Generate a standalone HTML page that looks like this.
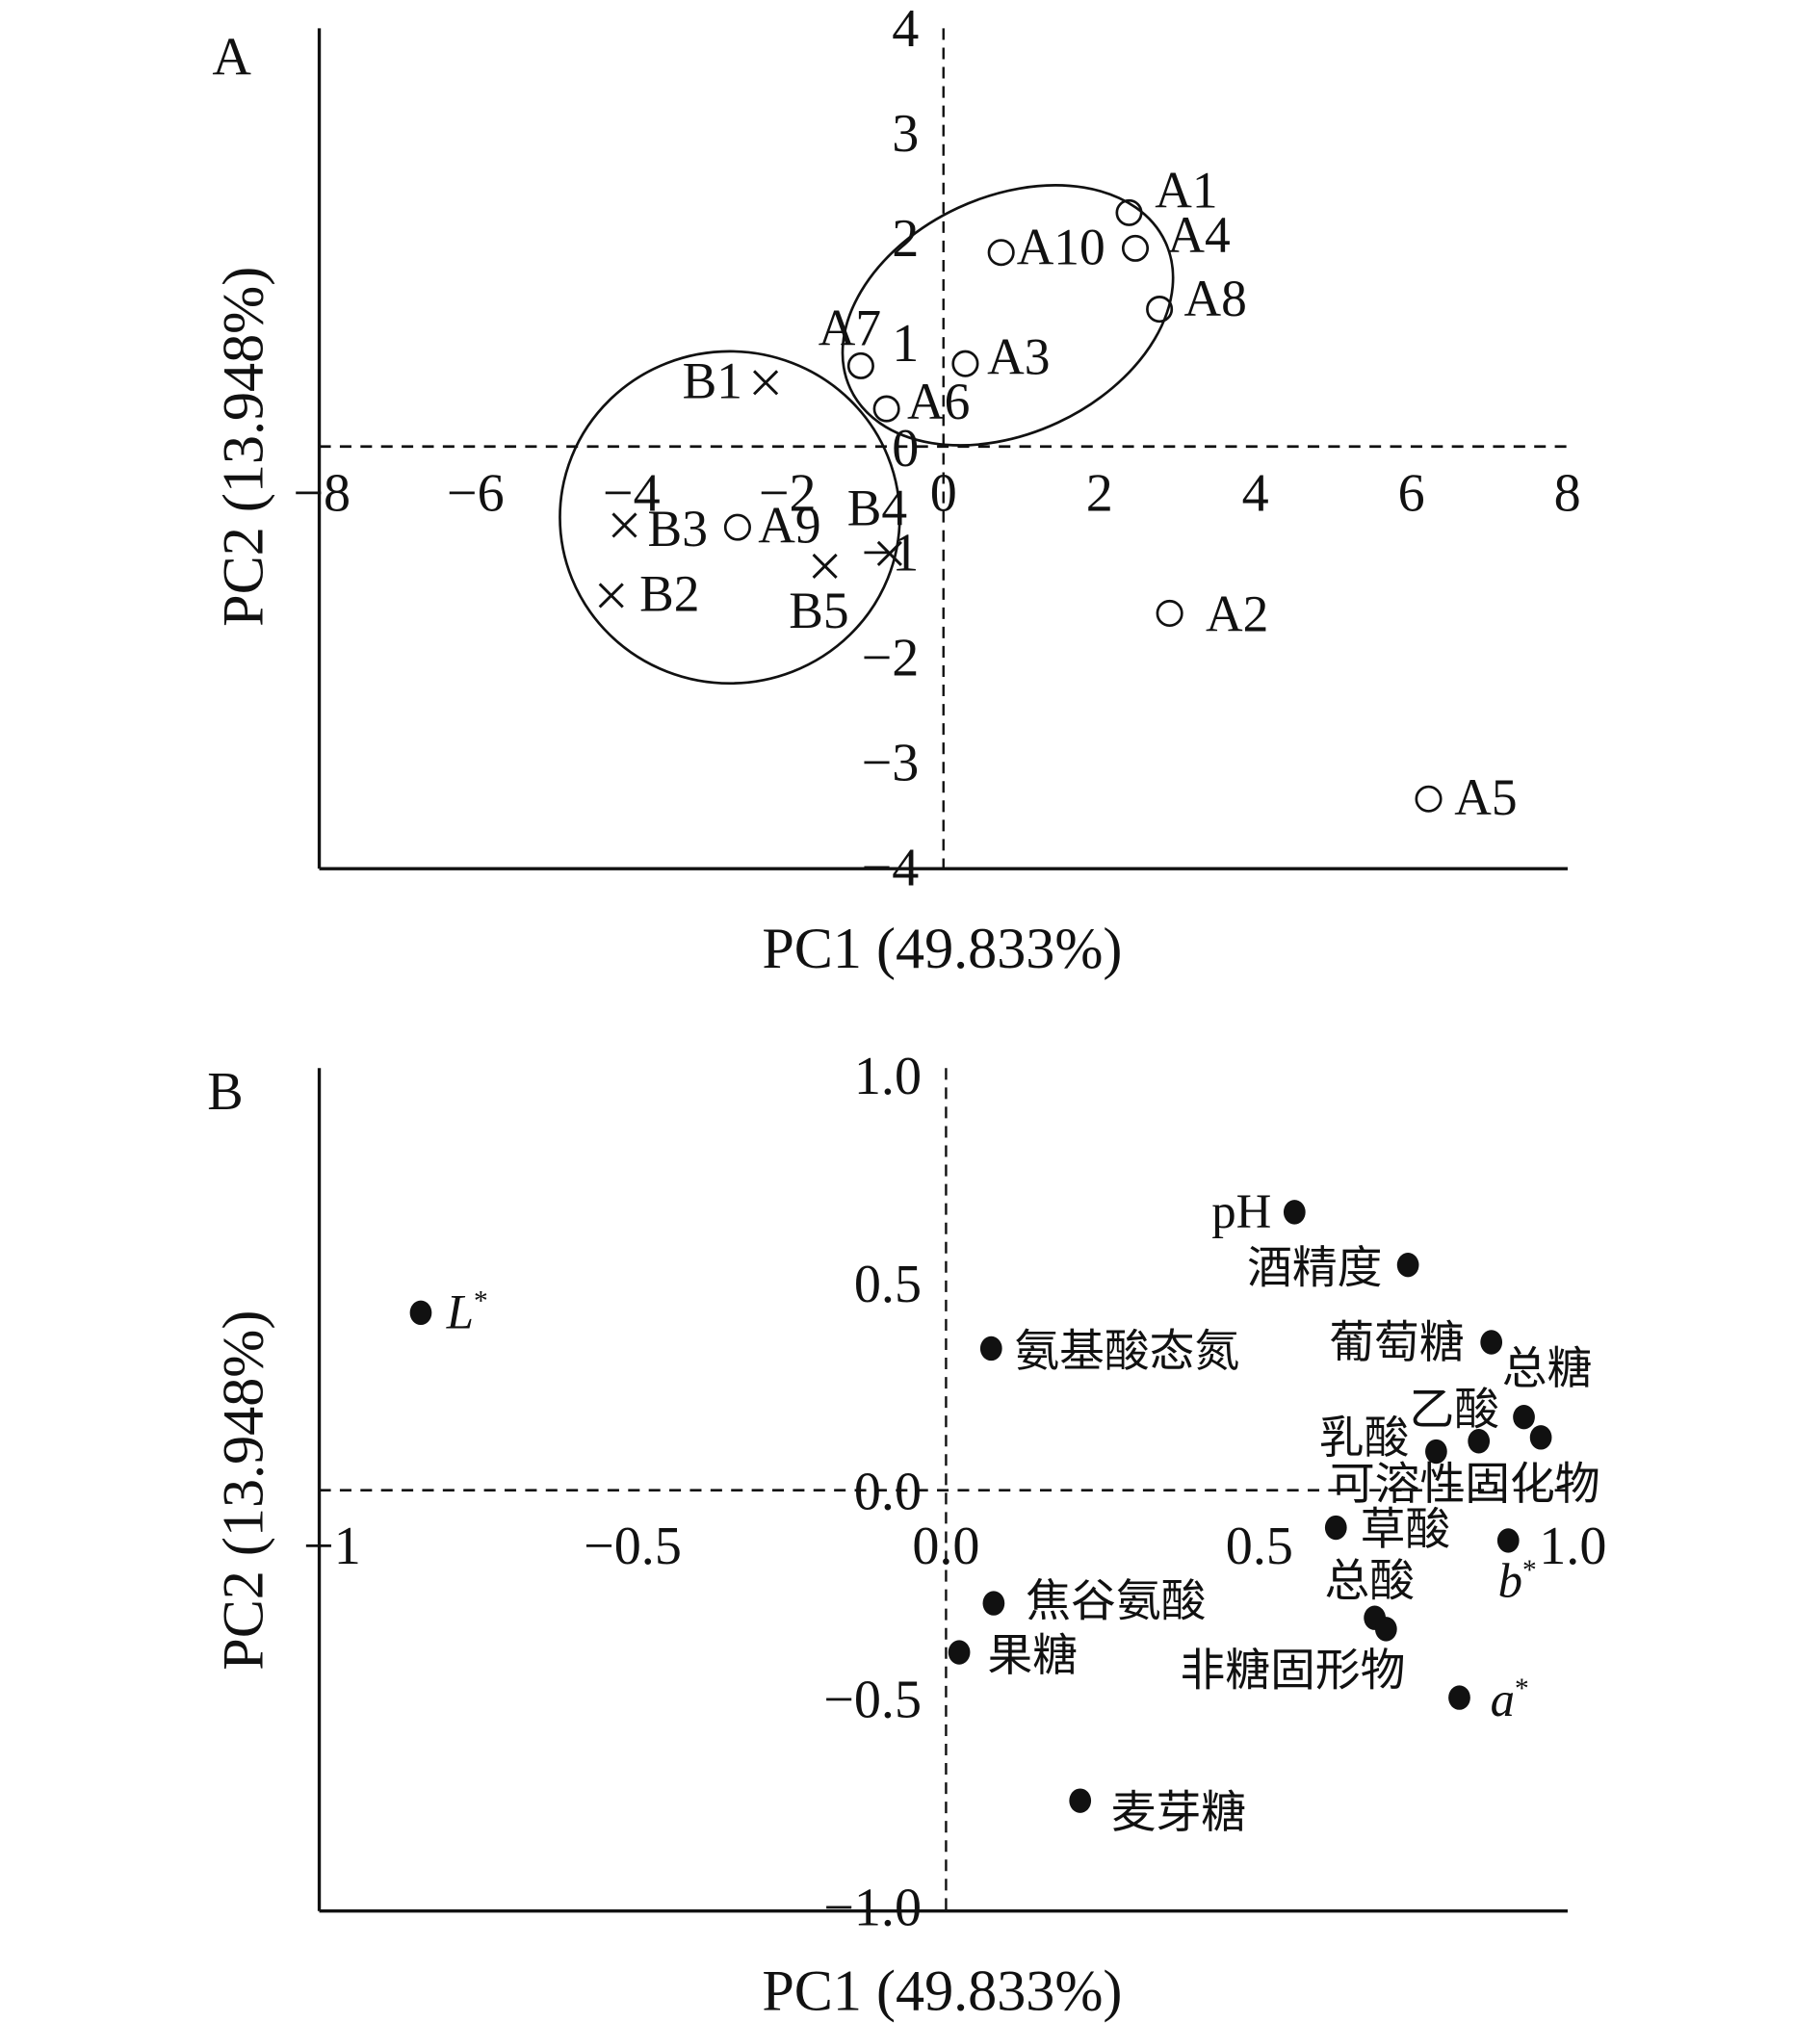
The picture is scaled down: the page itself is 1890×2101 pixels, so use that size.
<!DOCTYPE html>
<html><head><meta charset="utf-8"><style>
html,body{margin:0;padding:0;background:#fff}
svg{display:block}
text{font-family:"Liberation Serif","Noto Serif CJK SC",serif;fill:#111}
.cjk{font-family:"Liberation Serif","Noto Sans CJK SC",sans-serif}
</style></head><body>
<svg id="svg" width="1890" height="2101" viewBox="0 0 1414 1572" xmlns="http://www.w3.org/2000/svg">
<g id="pa"></g>
<g id="pb"></g>
</svg>
<script>
// Panel A data
const aNames = ["A1","A4","A10","A8","A7","A3","A6","B1","B3","A9","B4","B5","B2","A2","A5"];
const aX = [2.38,2.46,0.74,2.77,-1.06,0.28,-0.73,-2.28,-4.09,-2.64,-0.69,-1.52,-4.26,2.90,6.22];
const aY = [2.23,1.89,1.85,1.31,0.77,0.79,0.36,0.61,-0.75,-0.77,-1.02,-1.14,-1.42,-1.59,-3.36];
const aXTicks = [-8,-6,-4,-2,0,2,4,6,8];
const aYTicks = [4,3,2,1,0,-1,-2,-3,-4];
// Panel B data
const bNames = ["pH","酒精度","L","氨基酸态氮","葡萄糖","总糖","可溶性固化物","乙酸","乳酸","草酸","b","焦谷氨酸","总酸","非糖固形物","果糖","a","麦芽糖"];
const bX = [0.556,0.737,-0.838,0.072,0.870,0.922,0.949,0.850,0.782,0.622,0.897,0.076,0.684,0.702,0.021,0.819,0.214];
const bY = [0.669,0.542,0.427,0.341,0.356,0.176,0.127,0.118,0.093,-0.090,-0.121,-0.272,-0.307,-0.334,-0.390,-0.499,-0.747];
const bXTicks = ["-1","-0.5","0.0","0.5","1.0"];
const bYTicks = ["1.0","0.5","0.0","-0.5","-1.0"];

const NS="http://www.w3.org/2000/svg";
function mk(parent,tag,attrs,txt){const e=document.createElementNS(NS,tag);for(const k in attrs)e.setAttribute(k,attrs[k]);if(txt!==undefined)e.textContent=txt;parent.appendChild(e);return e;}
const minus = s => String(s).replace("-","\u2212");

// ---------- Panel A ----------
const pa=document.getElementById('pa');
const ax=v=>733+v*60.6, ay=v=>347-v*81.5;
let e;
e=mk(pa,'line',{x1:248,y1:22,x2:248,y2:675,stroke:'#111','stroke-width':2.5});

e=mk(pa,'line',{x1:248,y1:675,x2:1218,y2:675,stroke:'#111','stroke-width':2.5});

e=mk(pa,'line',{x1:248,y1:ay(0),x2:1218,y2:ay(0),stroke:'#111','stroke-width':2,'stroke-dasharray':'9,7'});

e=mk(pa,'line',{x1:ax(0),y1:22,x2:ax(0),y2:675,stroke:'#111','stroke-width':1.8,'stroke-dasharray':'9,6'});

e=mk(pa,'ellipse',{cx:783,cy:245,rx:135,ry:92,transform:'rotate(-25 783 245)',fill:'none',stroke:'#111','stroke-width':2});

e=mk(pa,'ellipse',{cx:567,cy:402,rx:132,ry:129,fill:'none',stroke:'#111','stroke-width':2});

aXTicks.forEach(t=>{const x=t===-8?250:ax(t);e=mk(pa,'text',{x:x,y:397,'font-size':42,'text-anchor':'middle'},minus(t));
});
aYTicks.forEach(t=>{e=mk(pa,'text',{x:714,y:ay(t)+15,'font-size':42,'text-anchor':'end'},minus(t));
});
const aOff={A1:[20,-4],A4:[25,3],A10:[12,9],A8:[19,5],A7:[-33,-16],A3:[17,8],A6:[16,8],B1:[-18,12],B3:[18,16],A9:[16,12],B4:[-33,-22],B5:[-28,48],B2:[22,12],A2:[28,14],A5:[20,12]};
aNames.forEach((n,i)=>{const x=ax(aX[i]),y=ay(aY[i]);
 if(n[0]==='B'){e=mk(pa,'path',{d:`M${x-9} ${y-9}L${x+9} ${y+9}M${x+9} ${y-9}L${x-9} ${y+9}`,stroke:'#111','stroke-width':2.2});}
 else{e=mk(pa,'circle',{cx:x,cy:y,r:9.5,fill:'none',stroke:'#111','stroke-width':2});}
 
 const o=aOff[n]||[18,12];const anchor=n==='B1'?'end':'start';
 e=mk(pa,'text',{x:x+o[0],y:y+o[1],'font-size':40,'text-anchor':anchor},n);
 });
e=mk(pa,'text',{x:180,y:58,'font-size':42,'text-anchor':'middle'},'A');

e=mk(pa,'text',{x:732,y:752,'font-size':45,'text-anchor':'middle'},'PC1 (49.833%)');

e=mk(pa,'text',{x:0,y:0,'font-size':45,'text-anchor':'middle',transform:'translate(204,347) rotate(-90)'},'PC2 (13.948%)');


// ---------- Panel B ----------
const pb=document.getElementById('pb');
const bx=v=>735+v*487, by=v=>1158-v*323;
e=mk(pb,'line',{x1:248,y1:830,x2:248,y2:1485,stroke:'#111','stroke-width':2.5});

e=mk(pb,'line',{x1:248,y1:1485,x2:1218,y2:1485,stroke:'#111','stroke-width':2.5});

e=mk(pb,'line',{x1:248,y1:by(0),x2:1218,y2:by(0),stroke:'#111','stroke-width':2,'stroke-dasharray':'9,7'});

e=mk(pb,'line',{x1:bx(0),y1:830,x2:bx(0),y2:1485,stroke:'#111','stroke-width':1.8,'stroke-dasharray':'9,6'});

bXTicks.forEach(t=>{const v=parseFloat(t);const x=v===-1?258:bx(v);e=mk(pb,'text',{x:x,y:1215,'font-size':42,'text-anchor':'middle'},minus(t));
});
bYTicks.forEach(t=>{e=mk(pb,'text',{x:716,y:by(parseFloat(t))+15,'font-size':42,'text-anchor':'end'},minus(t));
});
const bOff={"pH":[-18,12,'end'],"酒精度":[-20,14,'end'],"L":[20,12,'start'],"氨基酸态氮":[18,14,'start'],"葡萄糖":[-21,12,'end'],"总糖":[-17,-26,'start'],"可溶性固化物":[46,48,'end'],"乙酸":[16,-13,'end'],"乳酸":[-21,1,'end'],"草酸":[19,13,'start'],"b":[-8,44,'start'],"焦谷氨酸":[25,10,'start'],"总酸":[31,-17,'end'],"非糖固形物":[15,44,'end'],"果糖":[22,14,'start'],"a":[24,14,'start'],"麦芽糖":[24,21,'start']};
bNames.forEach((n,i)=>{const x=bx(bX[i]),y=by(bY[i]);
 e=mk(pb,'ellipse',{cx:x,cy:y,rx:8.5,ry:9.5,fill:'#111'});
 
 const o=bOff[n];
 if(n==='L'||n==='a'||n==='b'){
  e=mk(pb,'text',{x:x+o[0],y:y+o[1],'font-size':38,'font-style':'italic','text-anchor':o[2]});
  
  e.appendChild(document.createTextNode(n));
  const s=document.createElementNS(NS,'tspan');s.setAttribute('font-size',22);s.setAttribute('dy',-14);s.setAttribute('font-style','normal');s.textContent='*';e.appendChild(s);
 } else {
  e=mk(pb,'text',{x:x+o[0],y:y+o[1],'font-size':n==='pH'?38:35,'text-anchor':o[2],class:n==='pH'?'':'cjk'},n);
  
 }});
e=mk(pb,'text',{x:175,y:862,'font-size':42,'text-anchor':'middle'},'B');

e=mk(pb,'text',{x:732,y:1562,'font-size':45,'text-anchor':'middle'},'PC1 (49.833%)');

e=mk(pb,'text',{x:0,y:0,'font-size':45,'text-anchor':'middle',transform:'translate(204,1158) rotate(-90)'},'PC2 (13.948%)');

</script>
</body></html>
